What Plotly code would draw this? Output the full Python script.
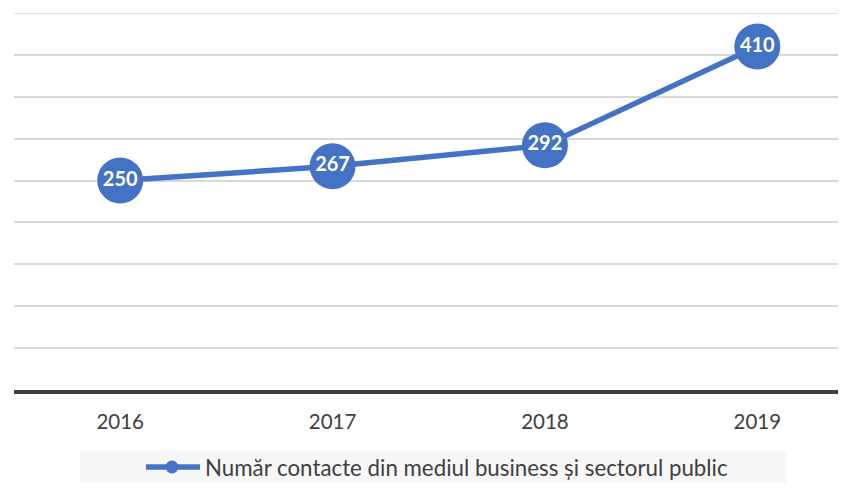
import plotly.graph_objects as go

years = ["2016", "2017", "2018", "2019"]
values = [250, 267, 292, 410]
series_name = "Număr contacte din mediul business și sectorul public"

BLUE = "#4472C4"
FONT = "Lato"

fig = go.Figure()
fig.add_trace(go.Scatter(
    x=years, y=values, name=series_name,
    mode="lines+markers+text",
    line=dict(color=BLUE, width=5.5),
    marker=dict(size=46, color=BLUE),
    text=[str(v) for v in values],
    textposition="middle center",
    textfont=dict(family=FONT, size=20, color="white", weight="bold"),
    cliponaxis=False,
    showlegend=False,
))

# page body has an 8px margin on every side; keep the figure inside the window
OFF = 8
W, H = 846 - 2 * OFF, 491 - 2 * OFF
PL, PT, PR, PB = 14, 13, 846 - OFF, 390          # plot area in window pixels
L, T, R, B = PL - OFF, PT - OFF, 0, (H + OFF) - PB
pw, ph = PR - PL, PB - PT

def px_x(x):
    return (x - PL) / pw

def px_y(y):
    return (PB - y) / ph

# legend box background
fig.add_shape(type="rect", xref="paper", yref="paper",
              x0=px_x(80), x1=px_x(786), y0=px_y(451), y1=px_y(500),
              fillcolor="#f7f7f7", line=dict(width=0), layer="below")
# top gridline (at the range edge)
fig.add_shape(type="line", xref="paper", yref="y", x0=0, x1=1, y0=450, y1=450,
              line=dict(color="#d9d9d9", width=1.5), layer="below")

# legend entry: line symbol with marker, then the series name
LEG_Y = 467
fig.add_shape(type="line", xref="paper", yref="paper",
              x0=px_x(146), x1=px_x(200), y0=px_y(LEG_Y), y1=px_y(LEG_Y),
              line=dict(color=BLUE, width=5.5))
fig.add_shape(type="circle", xref="paper", yref="paper",
              xsizemode="pixel", ysizemode="pixel",
              xanchor=px_x(172), yanchor=px_y(LEG_Y),
              x0=-6.5, x1=6.5, y0=-6.5, y1=6.5,
              fillcolor=BLUE, line=dict(width=0))
fig.add_annotation(xref="paper", yref="paper", x=px_x(203), y=px_y(LEG_Y),
                   xanchor="left", yanchor="middle", showarrow=False,
                   text=series_name,
                   font=dict(family=FONT, size=22.3, color="#404040"))

fig.update_layout(
    width=W, height=H,
    margin=dict(l=L, r=R, t=T, b=B, pad=0, autoexpand=False),
    paper_bgcolor="white", plot_bgcolor="white",
    font=dict(family=FONT, color="#404040"),
    showlegend=False,
    xaxis=dict(type="category", range=[-0.5, 3.38],
               showline=True, linecolor="#404040", linewidth=3.5,
               showgrid=False, ticks="outside", ticklen=11, tickcolor="rgba(0,0,0,0)",
               tickfont=dict(family=FONT, size=20.5, color="#404040"), fixedrange=True),
    yaxis=dict(range=[0, 450], dtick=50, showgrid=True, gridcolor="#d9d9d9", gridwidth=1.5,
               showticklabels=False, zeroline=False, showline=False, fixedrange=True),
)

fig.write_html("out.html")
